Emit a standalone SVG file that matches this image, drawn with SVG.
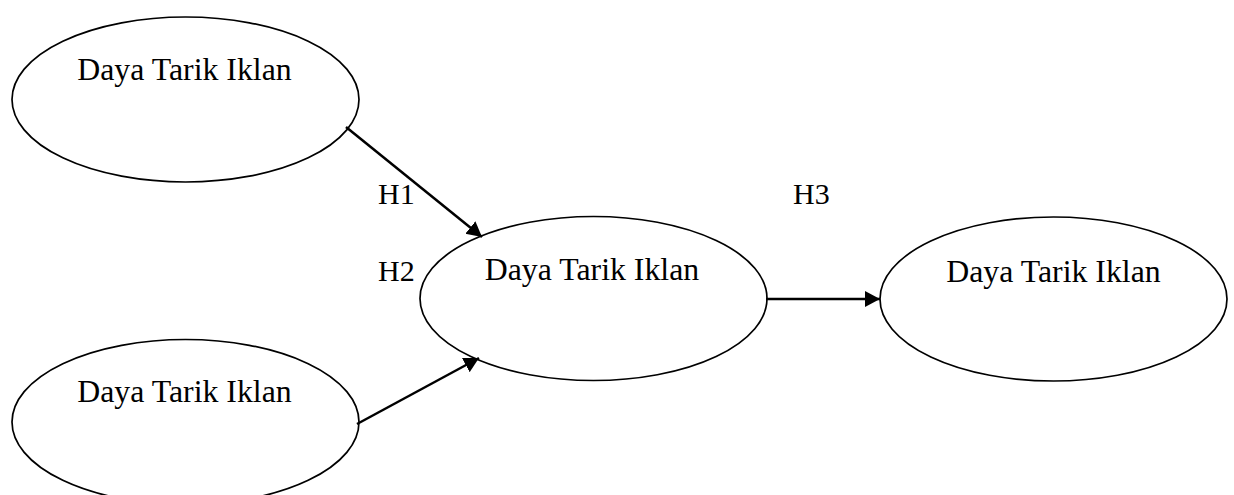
<svg xmlns="http://www.w3.org/2000/svg" width="1234" height="495" viewBox="0 0 1234 495">
  <style>
    .node ellipse { fill: #ffffff; stroke: #000000; stroke-width: 1.7; }
    .label { font-family: "Liberation Serif", "Times New Roman", serif; font-size: 30px; fill: #000000; }
    .node .label { text-anchor: middle; font-size: 31.8px; }
    .edge { stroke: #000000; stroke-width: 2.5; fill: none; marker-end: url(#arrow); }
  </style>
  <defs>
    <marker id="arrow" markerUnits="userSpaceOnUse" markerWidth="17" markerHeight="17" refX="15" refY="8" orient="auto">
      <path d="M0,0 L15,8 L0,16 z" fill="#000000"/>
    </marker>
  </defs>

  <rect width="1234" height="495" fill="#ffffff"/>

  <g id="node-top-left" class="node">
    <ellipse cx="185.5" cy="99.5" rx="173.5" ry="82.5"/>
    <text class="label" x="184.5" y="80">Daya Tarik Iklan</text>
  </g>

  <g id="node-bottom-left" class="node">
    <ellipse cx="185.5" cy="422" rx="173.5" ry="82.5"/>
    <text class="label" x="184.5" y="402">Daya Tarik Iklan</text>
  </g>

  <g id="node-center" class="node">
    <ellipse cx="593.5" cy="298.5" rx="173.5" ry="82"/>
    <text class="label" x="592" y="280">Daya Tarik Iklan</text>
  </g>

  <g id="node-right" class="node">
    <ellipse cx="1053.5" cy="299" rx="173.5" ry="82"/>
    <text class="label" x="1053.5" y="282">Daya Tarik Iklan</text>
  </g>

  <g id="connectors">
    <line class="edge" x1="346" y1="127" x2="482" y2="237"/>
    <line class="edge" x1="357" y1="424" x2="479" y2="358"/>
    <line class="edge" x1="766" y1="299" x2="880" y2="299"/>
  </g>

  <g id="hypothesis-labels">
    <text class="label" x="378" y="204">H1</text>
    <text class="label" x="378" y="281">H2</text>
    <text class="label" x="793" y="204">H3</text>
  </g>
</svg>
